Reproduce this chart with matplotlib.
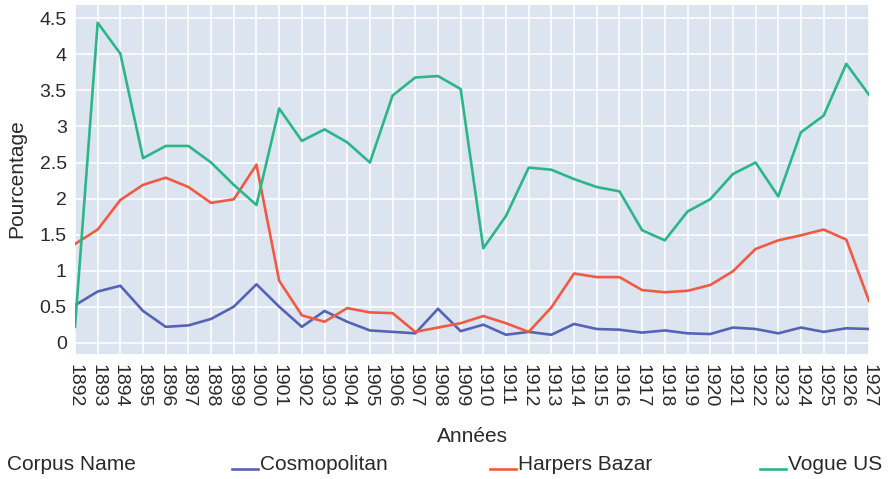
import matplotlib
matplotlib.use("Agg")
import matplotlib.pyplot as plt
from matplotlib.lines import Line2D
import numpy as np

plt.rcParams['font.family'] = ['Liberation Sans', 'DejaVu Sans']

annees = list(range(1892, 1928))
cosmopolitan = [0.52, 0.71, 0.79, 0.44, 0.22, 0.24, 0.33, 0.50, 0.81, 0.50,
                0.22, 0.44, 0.29, 0.17, 0.15, 0.13, 0.47, 0.16, 0.25, 0.11,
                0.15, 0.11, 0.26, 0.19, 0.18, 0.14, 0.17, 0.13, 0.12, 0.21,
                0.19, 0.13, 0.21, 0.15, 0.20, 0.19]
harpers = [1.37, 1.57, 1.98, 2.19, 2.29, 2.16, 1.94, 1.99, 2.47, 0.86,
           0.38, 0.29, 0.48, 0.42, 0.41, 0.15, 0.21, 0.27, 0.37, 0.27,
           0.15, 0.49, 0.96, 0.91, 0.91, 0.73, 0.70, 0.72, 0.80, 0.99,
           1.30, 1.42, 1.49, 1.57, 1.43, 0.58]
vogue = [0.22, 4.44, 4.01, 2.56, 2.73, 2.73, 2.50, 2.19, 1.91, 3.25,
         2.80, 2.96, 2.78, 2.50, 3.43, 3.68, 3.70, 3.52, 1.31, 1.76,
         2.43, 2.40, 2.27, 2.16, 2.10, 1.56, 1.42, 1.82, 1.99, 2.34,
         2.50, 2.03, 2.92, 3.15, 3.87, 3.44]

series = [("Cosmopolitan", cosmopolitan, "#5663b4"),
          ("Harpers Bazar", harpers, "#f05a44"),
          ("Vogue US", vogue, "#2bb68a")]

txt = "#2a2a2a"
fig = plt.figure(figsize=(8.9, 4.79), dpi=100)
ax = fig.add_axes([75/890, 1-354/479, (869-75)/890, (354-5)/479])
ax.set_facecolor("#dce5ef")
for s in ax.spines.values():
    s.set_visible(False)

for nom, vals, col in series:
    ax.plot(annees, vals, color=col, lw=1.9, label=nom, zorder=3)

ax.set_xlim(1892, 1927)
ax.set_ylim(-0.157, 4.686)
ax.set_xticks(annees)
ax.set_xticklabels([str(a) for a in annees], rotation=-90, fontsize=14, color=txt)
ax.set_yticks(np.arange(0, 4.51, 0.5))
ax.set_yticklabels(["0", "0.5", "1", "1.5", "2", "2.5", "3", "3.5", "4", "4.5"],
                   fontsize=14, color=txt)
ax.tick_params(axis='both', length=0)
ax.tick_params(axis='x', pad=7)
ax.tick_params(axis='y', pad=6)
ax.grid(True, color="white", lw=1.1, zorder=1)
ax.set_axisbelow(True)

fig.text(472/890, 1-437/479, "Années", ha='center', va='center', fontsize=15, color=txt)
fig.text(17/890, 1-179/479, "Pourcentage", ha='center', va='center', rotation=90,
         fontsize=15, color=txt)

# légende en bas
ly = 1-465/479
fig.text(7/890, ly, "Corpus Name", ha='left', va='center', fontsize=15, color=txt)
for (nom, vals, col), x0 in zip(series, [232, 490, 760]):
    fig.add_artist(Line2D([x0/890, (x0+26)/890], [1-469/479, 1-469/479],
                          transform=fig.transFigure, color=col, lw=1.9))
    fig.text((x0+28)/890, ly, nom, ha='left', va='center', fontsize=15, color=txt)

fig.savefig("out.png", dpi=100)
